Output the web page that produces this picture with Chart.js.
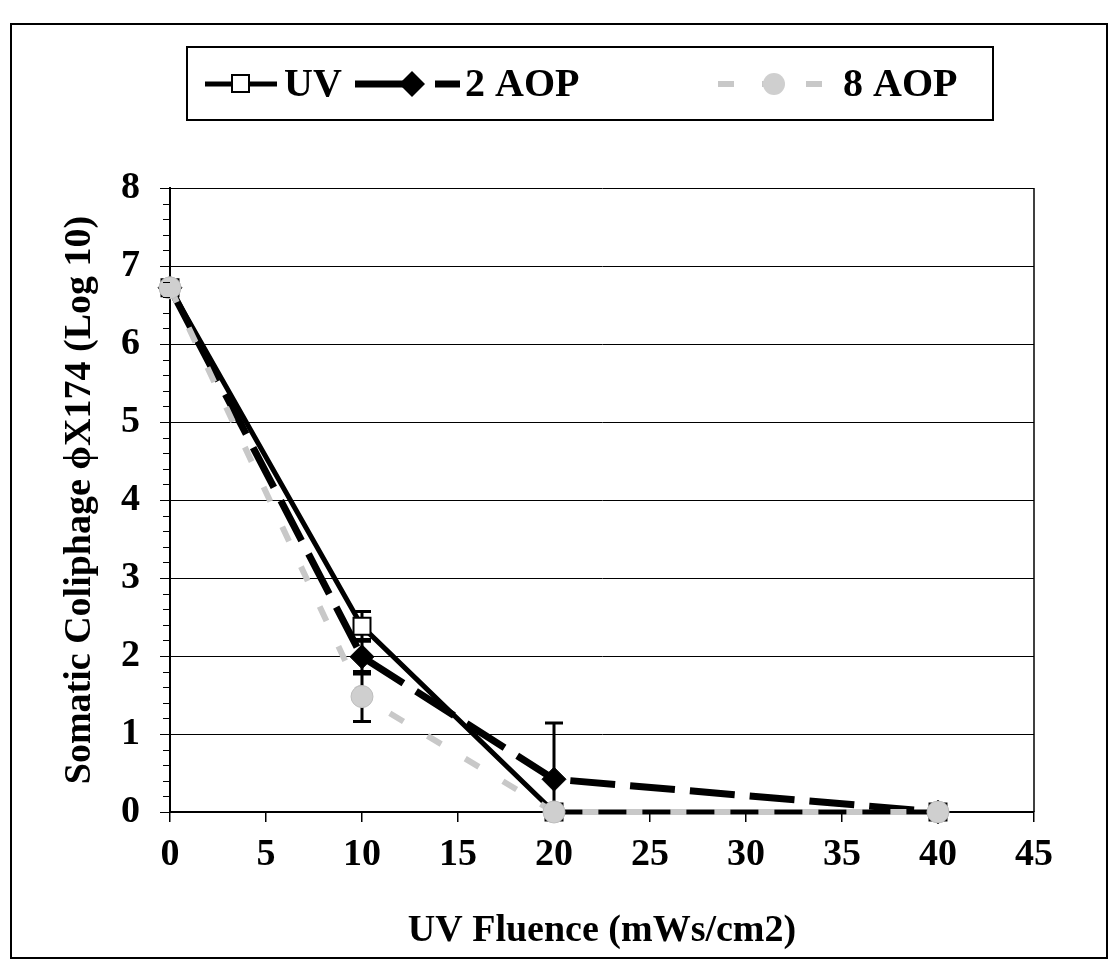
<!DOCTYPE html>
<html>
<head>
<meta charset="utf-8">
<script src="https://cdn.jsdelivr.net/npm/chart.js@4.4.0/dist/chart.umd.min.js"></script>
<style>
  html, body { margin: 0; padding: 0; background: #ffffff; }
  #wrap { width: 1111px; height: 971px; position: relative; }
</style>
</head>
<body>
<div id="wrap"><canvas id="c" width="1111" height="971"></canvas></div>
<script>
// ---- data ----
const fluence = [0, 10, 20, 40];                 // UV fluence (mWs/cm2)
const uvLog   = [6.72, 2.38, 0, 0];              // UV
const uvErr   = [0, 0.19, 0, 0];
const aop2Log = [6.72, 1.99, 0.42, 0];           // 2 AOP
const aop2Err = [0, 0.22, 0.72, 0];
const aop8Log = [6.72, 1.48, 0, 0];              // 8 AOP
const aop8Err = [0, 0.32, 0, 0];
const seriesNames = ['UV', '2 AOP', '8 AOP'];
const xTitle = 'UV Fluence (mWs/cm2)';
const yTitle = 'Somatic Coliphage \u03D5X174 (Log 10)';

const FONT = '"Liberation Serif", "Times New Roman", serif';
const pts = (ys) => fluence.map((x, i) => ({ x: x, y: ys[i] }));

const errorBars = {
  id: 'errorBars',
  beforeDatasetsDraw(chart) {
    const { ctx, chartArea, scales } = chart;
    const xs = scales.x, ys = scales.y;
    const sets = [[uvLog, uvErr], [aop2Log, aop2Err], [aop8Log, aop8Err]];
    ctx.save();
    ctx.beginPath();
    ctx.rect(chartArea.left, chartArea.top, chartArea.right - chartArea.left, chartArea.bottom - chartArea.top);
    ctx.clip();
    ctx.strokeStyle = '#000';
    ctx.lineWidth = 3;
    sets.forEach(([vals, errs]) => {
      vals.forEach((v, i) => {
        if (!errs[i]) return;
        const px = xs.getPixelForValue(fluence[i]);
        const hi = ys.getPixelForValue(v + errs[i]);
        const lo = ys.getPixelForValue(v - errs[i]);
        ctx.beginPath();
        ctx.moveTo(px, hi); ctx.lineTo(px, lo);
        ctx.moveTo(px - 9, hi); ctx.lineTo(px + 9, hi);
        ctx.moveTo(px - 9, lo); ctx.lineTo(px + 9, lo);
        ctx.stroke();
      });
    });
    ctx.restore();
  }
};

const frame = {
  id: 'frame',
  afterDraw(chart) {
    const { ctx, chartArea, scales } = chart;
    const ys = scales.y;
    ctx.save();
    // minor ticks on y axis
    ctx.strokeStyle = '#000';
    ctx.lineWidth = 1;
    for (let k = 0; k <= 40; k++) {
      if (k % 5 === 0) continue;
      const py = Math.round(ys.getPixelForValue(k / 5)) + 0.5;
      ctx.beginPath();
      ctx.moveTo(chartArea.left - 7, py);
      ctx.lineTo(chartArea.left, py);
      ctx.stroke();
    }
    // right border of plot area
    ctx.lineWidth = 1.5;
    ctx.beginPath();
    ctx.moveTo(chartArea.right, chartArea.top);
    ctx.lineTo(chartArea.right, chartArea.bottom);
    ctx.stroke();
    // outer figure border
    ctx.lineWidth = 2;
    ctx.strokeRect(11, 24, 1096, 934);

    // legend
    const ly = 84;
    ctx.lineWidth = 2;
    ctx.strokeRect(187, 47, 806, 73);
    ctx.font = 'bold 40px ' + FONT;
    ctx.fillStyle = '#000';
    ctx.textBaseline = 'middle';
    ctx.textAlign = 'left';
    // UV
    ctx.lineWidth = 5;
    ctx.beginPath(); ctx.moveTo(205, ly); ctx.lineTo(277, ly); ctx.stroke();
    ctx.fillStyle = '#fff';
    ctx.fillRect(232, ly - 9, 17, 17);
    ctx.lineWidth = 2;
    ctx.strokeRect(232, ly - 9, 17, 17);
    ctx.fillStyle = '#000';
    ctx.fillText(seriesNames[0], 284, ly + 2);
    // 2 AOP
    ctx.save();
    ctx.lineWidth = 7;
    ctx.setLineDash([50, 30]);
    ctx.beginPath(); ctx.moveTo(355, ly); ctx.lineTo(460, ly); ctx.stroke();
    ctx.restore();
    ctx.beginPath();
    ctx.moveTo(412, ly - 13); ctx.lineTo(425, ly); ctx.lineTo(412, ly + 13); ctx.lineTo(399, ly);
    ctx.closePath(); ctx.fill();
    ctx.fillText(seriesNames[1], 465, ly + 2);
    // 8 AOP
    ctx.save();
    ctx.strokeStyle = '#c8c8c8';
    ctx.lineWidth = 6;
    ctx.setLineDash([16, 28]);
    ctx.beginPath(); ctx.moveTo(718, ly); ctx.lineTo(830, ly); ctx.stroke();
    ctx.restore();
    ctx.fillStyle = '#cfcfcf';
    ctx.beginPath(); ctx.arc(774, ly, 11, 0, Math.PI * 2); ctx.fill();
    ctx.fillStyle = '#000';
    ctx.fillText(seriesNames[2], 843, ly + 2);
    ctx.restore();
  }
};

new Chart(document.getElementById('c'), {
  type: 'line',
  data: {
    datasets: [
      {
        label: seriesNames[0], data: pts(uvLog), order: 3,
        borderColor: '#000', borderWidth: 5, tension: 0,
        pointStyle: 'rect', pointRadius: 12, pointBackgroundColor: '#fff',
        pointBorderColor: '#000', pointBorderWidth: 2
      },
      {
        label: seriesNames[1], data: pts(aop2Log), order: 2,
        borderColor: '#000', borderWidth: 7, borderDash: [45, 15], tension: 0,
        pointStyle: 'rectRot', pointRadius: 12, pointBackgroundColor: '#000',
        pointBorderColor: '#000', pointBorderWidth: 1
      },
      {
        label: seriesNames[2], data: pts(aop8Log), order: 1,
        borderColor: '#c8c8c8', borderWidth: 6, borderDash: [16, 28], tension: 0,
        pointStyle: 'circle', pointRadius: 11, pointBackgroundColor: '#cfcfcf',
        pointBorderColor: '#bdbdbd', pointBorderWidth: 1
      }
    ]
  },
  options: {
    responsive: false,
    animation: false,
    clip: false,
    layout: { padding: { left: 0, top: 188, right: 77, bottom: 0 } },
    plugins: { legend: { display: false }, tooltip: { enabled: false }, title: { display: false } },
    scales: {
      x: {
        type: 'linear', min: 0, max: 45,
        afterFit(s) { s.height = 159; },
        ticks: { stepSize: 5, color: '#000', padding: 10, font: { family: FONT, size: 38, weight: 'bold' } },
        grid: { drawOnChartArea: false, color: '#000', tickLength: 10, lineWidth: 1.5 },
        border: { color: '#000', width: 2 },
        title: { display: true, text: xTitle, color: '#000', padding: 17, font: { family: FONT, size: 38, weight: 'bold' } }
      },
      y: {
        type: 'linear', min: 0, max: 8,
        afterFit(s) { s.width = 170; },
        ticks: { stepSize: 1, color: '#000', padding: 20, font: { family: FONT, size: 38, weight: 'bold' } },
        grid: { color: '#000', tickLength: 10, lineWidth: 1 },
        border: { color: '#000', width: 2 },
        title: { display: true, text: yTitle, color: '#000', padding: { top: 57, bottom: 0 }, font: { family: FONT, size: 38, weight: 'bold' } }
      }
    }
  },
  plugins: [errorBars, frame]
});
</script>
</body>
</html>
